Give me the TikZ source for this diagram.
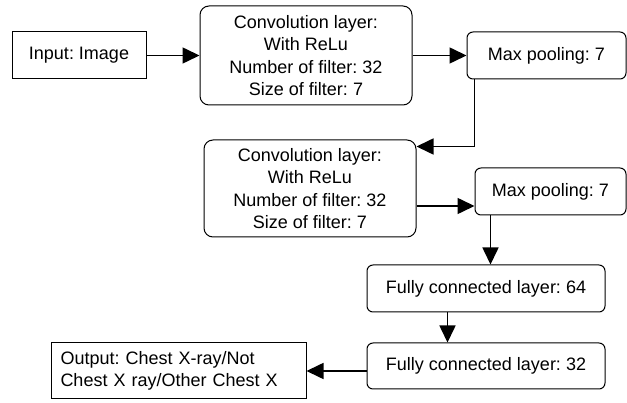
\documentclass[tikz,border=0pt]{standalone}
\usepackage{fontspec}
\setmainfont{Liberation Sans}
\usetikzlibrary{arrows.meta}
\frenchspacing
\begin{document}
\begin{tikzpicture}[x=1pt,y=-1pt,
  box/.style={draw, line width=1pt, inner sep=2pt, align=center,
    font=\fontsize{18}{22.5}\selectfont},
  rbox/.style={box, rounded corners=9pt},
  sbox/.style={box, rounded corners=6pt},
  arr/.style={line width=1.6pt, -{Triangle[length=17pt,width=16pt]}}]
\useasboundingbox (0,0) rectangle (627,403);
\node[box, minimum width=134pt, minimum height=47pt] (in) at (79,55.5) {Input: Image};
\node[rbox, minimum width=212pt, minimum height=99pt] (c1) at (306,55.5)
  {Convolution layer:\\With ReLu\\Number of filter: 32\\Size of filter: 7};
\node[sbox, minimum width=159pt, minimum height=47pt] (m1) at (546.5,55.5) {Max pooling: 7};
\node[rbox, minimum width=212pt, minimum height=97pt] (c2) at (310,188.5)
  {Convolution layer:\\With ReLu\\Number of filter: 32\\Size of filter: 7};
\node[sbox, minimum width=151pt, minimum height=47pt] (m2) at (550.5,191.5) {Max pooling: 7};
\node[sbox, minimum width=238pt, minimum height=47pt] (f64) at (486,288.5) {Fully connected layer: 64};
\node[sbox, minimum width=238pt, minimum height=46pt] (f32) at (486,366) {Fully connected layer: 32};
\node[box, align=left, minimum width=255pt, minimum height=56pt, text width=236pt] (out) at (178.5,371)
  {Output: Chest X-ray/Not\\Chest X ray/Other Chest X};
\draw[arr] (in.east) -- (c1.west);
\draw[arr] (c1.east) -- (m1.west);
\draw[arr] ([xshift=8pt]m1.south west) |- ([yshift=-7pt]c2.north east);
\draw[arr] ([yshift=-17.5pt]c2.east) -- ([yshift=-17.5pt]c2.east -| m2.west);
\draw[arr] ([xshift=16pt]m2.south west) -- ([xshift=16pt]m2.south west |- f64.north);
\draw[arr] ([xshift=81pt]f64.south west) -- ([xshift=81pt]f64.south west |- f32.north);
\draw[arr] (f32.west |- out.east) -- (out.east);
\end{tikzpicture}
\end{document}
